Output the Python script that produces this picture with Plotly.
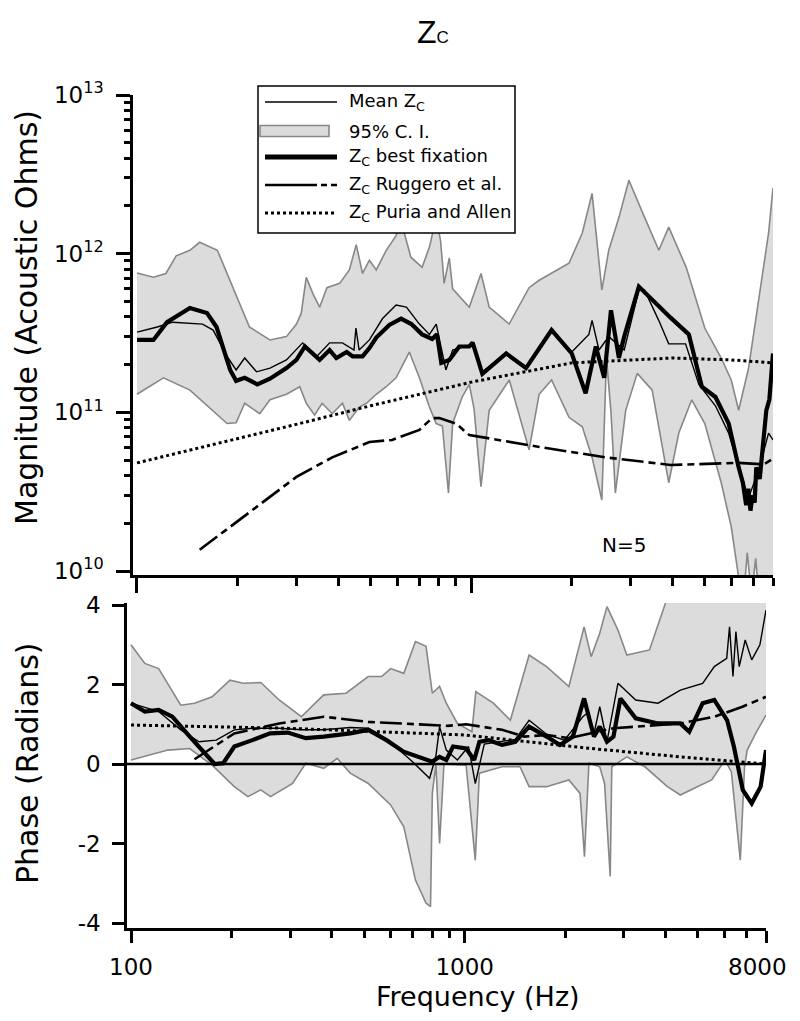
import math
import plotly.graph_objects as go

# The page body has an 8px margin; the figure is sized so the page does not overflow the 800x1021 window.
OFF = 8
W, H = 800 - OFF, 1021 - 2 * OFF


def px(x):
    return (x - OFF) / W


def py(y):
    return 1 - (y - OFF) / H


# ---------------- DATA ----------------
MAG_UNIT = 1e11  # magnitudes below are in units of 1e11 acoustic ohms

# Mean Zc magnitude
MEAN_MAG_F = [100, 115, 128, 157, 169, 186, 198, 210, 228, 250, 280, 313, 345, 377, 412, 446, 452, 462, 496, 543,
              596, 640, 700, 750, 786, 840, 880, 987, 1010, 1080, 1273, 1459, 1740, 2000, 2250, 2300, 2412, 2580,
              2870, 3175, 3300, 3640, 3900, 4380, 4800, 5380, 5895, 6314, 6760, 7245, 7760, 8000]
MEAN_MAG = [3.2, 3.45, 3.7, 3.6, 3.3, 2.25, 1.85, 2.2, 1.8, 1.9, 2.14, 2.74, 2.25, 2.74, 2.74, 2.47, 3.4, 2.47, 2.86,
            3.9, 4.75, 4.6, 3.6, 3.1, 3.6, 1.85, 2.47, 2.65, 2.75, 1.8, 2.35, 1.95, 3.3, 2.4, 3.1, 3.8, 2.47, 3.0,
            2.47, 5.9, 5.9, 3.8, 2.7, 2.7, 1.5, 1.1, 0.74, 0.45, 0.29, 0.43, 0.74, 0.67]

# Zc best fixation magnitude
BEST_MAG_F = [100, 112, 123, 144, 162, 173, 190, 198, 210, 229, 250, 280, 300, 318, 352, 377, 395, 424, 442, 473,
              496, 520, 569, 617, 662, 713, 764, 790, 814, 860, 921, 987, 1010, 1080, 1273, 1459, 1740, 2000, 2200,
              2360, 2500, 2620, 2767, 2870, 3175, 3480, 3950, 4480, 4900, 5380, 5895, 6314, 6500, 6650, 6750, 6850,
              6950, 7050, 7130, 7300, 7450, 7640, 7800, 8000]
BEST_MAG = [2.86, 2.86, 3.7, 4.55, 4.23, 3.45, 1.85, 1.58, 1.65, 1.5, 1.63, 1.9, 2.14, 2.6, 2.14, 2.47, 2.2, 2.4,
            2.25, 2.25, 2.54, 2.96, 3.55, 3.9, 3.6, 3.1, 2.9, 3.1, 2.05, 2.14, 2.6, 2.6, 2.75, 1.75, 2.35, 1.9, 3.3,
            2.35, 1.32, 2.6, 1.65, 4.4, 2.2, 3.0, 6.2, 5.1, 3.95, 3.1, 1.45, 1.25, 0.85, 0.45, 0.36, 0.26, 0.33,
            0.24, 0.3, 0.27, 0.45, 0.38, 0.6, 1.03, 1.2, 2.35]

# Ruggero et al. magnitude
RUG_MAG_F = [154, 203, 300, 384, 496, 580, 700, 764, 803, 900, 987, 1600, 2530, 3950, 6300, 7500, 8000]
RUG_MAG = [0.136, 0.21, 0.392, 0.52, 0.65, 0.67, 0.775, 0.92, 0.92, 0.85, 0.72, 0.605, 0.52, 0.466, 0.48, 0.47, 0.51]

# Puria and Allen magnitude
PA_MAG_F = [100, 200, 300, 500, 1000, 2000, 4000, 6000, 8000]
PA_MAG = [0.48, 0.68, 0.84, 1.10, 1.55, 2.05, 2.20, 2.14, 2.05]

# 95% C.I. magnitude, upper and lower limits
CI_UP_F = [100, 112, 122, 131, 144, 154, 174, 190, 217, 250, 280, 300, 310, 321, 336, 352, 370, 404, 432, 453,
           473, 496, 520, 557, 596, 617, 660, 713, 750, 786, 810, 830, 860, 880, 921, 987, 1070, 1132, 1299, 1490,
           1597, 1962, 2150, 2300, 2460, 2580, 2770, 2964, 3300, 3643, 3900, 4400, 5000, 5600, 6000, 6314, 6760,
           7245, 7760, 8000]
CI_UP = [7.55, 7.1, 7.5, 9.7, 10.5, 11.8, 10.5, 6.8, 3.45, 2.86, 3.0, 3.6, 4.2, 7.1, 5.6, 4.6, 6.1, 6.5, 7.9, 11.4,
         7.5, 9.1, 7.9, 10.5, 13, 16, 9.5, 8.2, 11, 17, 12, 6.5, 9.4, 6.0, 5.4, 4.6, 7.5, 4.6, 3.6, 6.1,
         6.8, 8.7, 13.5, 24, 5.9, 10.5, 17, 29, 17, 10.5, 14.7, 8.2, 3.4, 2.2, 1.6, 1.03, 1.9, 5.1, 13.5, 26]
CI_LO_F = [100, 120, 144, 168, 186, 198, 210, 233, 250, 280, 307, 321, 340, 358, 384, 412, 432, 463, 486, 520,
           557, 596, 653, 700, 750, 786, 820, 855, 880, 940, 987, 1020, 1070, 1132, 1273, 1300, 1490, 1597, 1740,
           1962, 2150, 2300, 2460, 2540, 2620, 2700, 2900, 3140, 3480, 3900, 4180, 4570, 5000, 5600, 6000, 6300,
           6500, 6700, 6900, 7100, 7300, 8000]
CI_LO = [1.3, 1.65, 1.38, 1.03, 0.85, 0.86, 1.14, 0.98, 1.2, 1.3, 1.45, 1.14, 0.96, 1.14, 0.98, 1.14, 0.89, 1.08,
         1.14, 1.3, 1.45, 1.65, 2.4, 1.65, 1.08, 0.85, 0.82, 0.31, 0.85, 1.25, 1.5, 1.05, 0.34, 1.03, 1.52, 1.6,
         0.58, 1.3, 1.6, 0.93, 0.81, 0.52, 0.28, 2.2, 1.0, 0.31, 1.03, 1.76, 1.38, 0.36, 0.74, 1.2, 0.85, 0.36,
         0.19, 0.1, 0.06, 0.13, 0.07, 0.12, 0.06, 0.06]

# Phase (radians)
MEAN_PH_F = [100, 121, 141, 160, 180, 204, 231, 278, 324, 378, 454, 514, 548, 620, 699, 785, 820, 841, 881, 951,
             1027, 1076, 1145, 1294, 1418, 1560, 1760, 1990, 2260, 2350, 2430, 2540, 2670, 2880, 3256, 3798, 4430,
             5167, 5600, 6100, 6220, 6370, 6500, 6650, 6930, 7250, 7670, 8000]
MEAN_PH = [1.53, 1.32, 0.86, 0.56, 0.6, 0.86, 0.9, 0.9, 0.86, 0.86, 0.92, 0.9, 0.77, 0.44, 0.05, -0.36, 0.2, 0.94,
           0.35, 0.1, 0.44, -0.49, 0.5, 0.56, 0.62, 1.1, 0.75, 0.6, 1.19, 1.3, 0.69, 1.44, 0.56, 2.03, 1.61, 1.53,
           1.86, 2.03, 2.45, 2.66, 3.45, 2.2, 3.33, 2.45, 3.12, 2.62, 3.0, 3.87]

BEST_PH_F = [100, 110, 121, 133, 150, 165, 178, 189, 204, 231, 261, 295, 334, 378, 454, 514, 583, 656, 741, 800,
             841, 881, 923, 1010, 1068, 1107, 1180, 1294, 1418, 1560, 1760, 1930, 2110, 2280, 2440, 2540, 2670,
             2792, 2930, 3256, 3798, 4430, 4710, 5167, 5600, 6118, 6409, 6816, 7249, 7709, 8000]
BEST_PH = [1.53, 1.32, 1.36, 1.19, 0.69, 0.31, 0.0, 0.02, 0.44, 0.6, 0.77, 0.79, 0.65, 0.69, 0.77, 0.86, 0.6, 0.31,
           0.14, 0.06, 0.18, 0.1, 0.44, 0.39, 0.1, 0.56, 0.6, 0.48, 0.56, 0.94, 0.69, 0.48, 0.69, 1.65, 0.69, 0.94,
           0.56, 0.69, 1.65, 1.15, 1.02, 1.02, 0.81, 1.53, 1.61, 1.1, 0.44, -0.65, -0.99, -0.57, 0.35]

RUG_PH_F = [155, 204, 278, 378, 514, 699, 890, 1010, 1294, 1509, 1760, 2053, 2394, 2792, 3256, 4430, 5600, 6800, 8000]
RUG_PH = [0.12, 0.77, 1.02, 1.19, 1.06, 1.0, 0.96, 1.0, 0.86, 0.69, 0.73, 0.65, 0.77, 0.9, 0.94, 1.02, 1.19, 1.44, 1.69]

PA_PH_F = [100, 290, 1000, 2394, 4430, 8000]
PA_PH = [0.98, 0.90, 0.73, 0.39, 0.18, 0.0]

CI_PH_UP_F = [100, 110, 121, 141, 155, 175, 198, 217, 245, 278, 324, 378, 441, 514, 564, 600, 657, 712, 766, 800,
              841, 881, 951, 1051, 1080, 1219, 1371, 1560, 1760, 2053, 2280, 2394, 2540, 2670, 2880, 3062, 3580,
              3980, 4170, 8000]
CI_PH_UP = [3.0, 2.53, 2.4, 1.48, 1.53, 1.69, 2.11, 2.03, 2.05, 1.61, 1.19, 1.74, 1.78, 2.2, 2.2, 2.4, 2.28, 3.08,
            2.96, 1.78, 1.95, 1.53, 1.02, 0.81, 1.82, 1.53, 1.1, 2.74, 2.45, 1.95, 3.45, 2.7, 3.29, 3.96, 3.37,
            2.74, 2.87, 3.96, 4.5, 4.5]
CI_PH_LO_F = [100, 129, 150, 175, 204, 224, 245, 262, 305, 334, 378, 415, 454, 514, 600, 657, 712, 766, 790, 800,
              820, 841, 867, 1010, 1076, 1107, 1294, 1465, 1560, 1760, 2053, 2217, 2286, 2357, 2540, 2626, 2730,
              2760, 3062, 3470, 4050, 4430, 4980, 5500, 6026, 6300, 6700, 6900, 7027, 7450, 8000]
CI_PH_LO = [0.1, 0.35, 0.39, -0.03, -0.57, -0.82, -0.65, -0.82, -0.49, 0.02, -0.11, 0.14, -0.23, -0.49, -1.03,
            -1.58, -2.92, -3.5, -3.59, -0.74, 0.0, -2.0, 0.0, -0.03, -2.42, -0.23, -0.07, -0.07, -0.57, -0.57,
            -0.4, -0.74, -2.33, 0.02, -0.07, -0.49, -2.83, -0.07, 0.18, -0.07, -0.57, -0.78, -0.57, -0.4, 0.1,
            -0.2, -2.42, -0.07, 0.35, 0.77, 1.23]

# Axis tick labels (the last frequency label sits just left of its tick, as in the source figure)
X_TICKS = [100, 1000, 8000]
X_TICK_TEXT = ["100", "1000", ""]
X_END_LABEL = "8000"
MAG_TICKS = [1e10, 1e11, 1e12, 1e13]
MAG_TICK_TEXT = ["10<sup>10</sup>", "10<sup>11</sup>", "10<sup>12</sup>", "10<sup>13</sup>"]
PH_TICKS = [-4, -2, 0, 2, 4]
PH_TICK_TEXT = ["-4", "-2", "0", "2", "4"]

LEGEND_TEXT = ["Mean Z<sub>C</sub>", "95% C. I.", "Z<sub>C</sub> best fixation",
               "Z<sub>C</sub> Ruggero et al.", "Z<sub>C</sub> Puria and Allen"]

# ---------------- STYLE ----------------
FONT = "DejaVu Sans"
FILL = "#dcdcdc"
EDGE = "#878787"
RUG_DASH = "22px,5px,7px,5px"
THIN_W, THICK_W, RUG_W, PA_W = 1.4, 4.2, 2.6, 3.0
TICK_FONT = 23


def mag(v):
    return [a * MAG_UNIT for a in v]


fig = go.Figure()


def line(x, y, xa, ya, color="black", width=1.5, dash="solid"):
    fig.add_trace(go.Scatter(x=x, y=y, mode="lines", xaxis=xa, yaxis=ya, hoverinfo="skip",
                             line=dict(color=color, width=width, dash=dash), showlegend=False))


# ---- top: magnitude ----
fig.add_trace(go.Scatter(x=CI_UP_F + CI_LO_F[::-1], y=mag(CI_UP + CI_LO[::-1]), mode="lines",
                         fill="toself", fillcolor=FILL, line=dict(width=0, color=FILL),
                         xaxis="x", yaxis="y", hoverinfo="skip", showlegend=False))
line(CI_UP_F, mag(CI_UP), "x", "y", EDGE, 1.6)
line(CI_LO_F, mag(CI_LO), "x", "y", EDGE, 1.6)
line(PA_MAG_F, mag(PA_MAG), "x", "y", "black", PA_W, "3px,3px")
line(RUG_MAG_F, mag(RUG_MAG), "x", "y", "black", RUG_W, RUG_DASH)
line(MEAN_MAG_F, mag(MEAN_MAG), "x", "y", "black", THIN_W)
line(BEST_MAG_F, mag(BEST_MAG), "x", "y", "black", THICK_W)

# ---- bottom: phase ----
fig.add_trace(go.Scatter(x=CI_PH_UP_F + CI_PH_LO_F[::-1], y=CI_PH_UP + CI_PH_LO[::-1], mode="lines",
                         fill="toself", fillcolor=FILL, line=dict(width=0, color=FILL),
                         xaxis="x2", yaxis="y2", hoverinfo="skip", showlegend=False))
line(CI_PH_UP_F, CI_PH_UP, "x2", "y2", EDGE, 1.6)
line(CI_PH_LO_F, CI_PH_LO, "x2", "y2", EDGE, 1.6)

X2_RANGE = [2 - 4 / 333.5, math.log10(8000)]
line([10 ** X2_RANGE[0], 10 ** X2_RANGE[1]], [0, 0], "x2", "y2", "black", 2.6)
line(PA_PH_F, PA_PH, "x2", "y2", "black", PA_W, "3px,3px")
line(RUG_PH_F, RUG_PH, "x2", "y2", "black", RUG_W, RUG_DASH)
line(MEAN_PH_F, MEAN_PH, "x2", "y2", "black", THIN_W)
line(BEST_PH_F, BEST_PH, "x2", "y2", "black", THICK_W)

# ---------------- AXES ----------------
minor_x = [k * 100 for k in range(2, 10)] + [k * 1000 for k in range(2, 8)]
minor_mag = [k * 10 ** d for d in (10, 11, 12) for k in range(2, 10)]

axis_common = dict(showline=True, linecolor="black", linewidth=2.5, ticks="outside", tickcolor="black",
                   tickwidth=2.5, showgrid=False, zeroline=False, mirror=False, automargin=False,
                   tickfont=dict(family=FONT, size=TICK_FONT, color="black"))

fig.update_layout(
    template="none",
    width=W, height=H, autosize=False,
    margin=dict(l=0, r=0, t=0, b=0, pad=0),
    paper_bgcolor="white", plot_bgcolor="white",
    showlegend=False,
    xaxis=dict(type="log", domain=[px(133), px(773)], range=[2 - 4 / 335, math.log10(8000)], anchor="y",
               tickmode="array", tickvals=X_TICKS[:2], showticklabels=False, ticklen=15,
               minor=dict(tickmode="array", tickvals=minor_x + [8000], ticklen=8, tickwidth=2.5,
                          tickcolor="black", ticks="outside", showgrid=False),
               **axis_common),
    yaxis=dict(type="log", domain=[py(575), py(95)], range=[10 - 4 / 158.67, 13], anchor="x",
               tickmode="array", tickvals=MAG_TICKS, ticktext=MAG_TICK_TEXT, ticklen=14,
               ticklabelstandoff=8,
               minor=dict(tickmode="array", tickvals=minor_mag, ticklen=6, tickwidth=2.5,
                          tickcolor="black", ticks="outside", showgrid=False),
               **axis_common),
    xaxis2=dict(type="log", domain=[px(127), px(766)], range=X2_RANGE, anchor="y2",
                tickmode="array", tickvals=X_TICKS, ticktext=X_TICK_TEXT, ticklen=12,
                ticklabelstandoff=5,
                minor=dict(tickmode="array", tickvals=minor_x, ticklen=7, tickwidth=2.5,
                           tickcolor="black", ticks="outside", showgrid=False),
                **axis_common),
    yaxis2=dict(domain=[py(928), py(603)], range=[-4 - 5 / 39.75, 4 + 2 / 39.75], anchor="x2",
                tickmode="array", tickvals=PH_TICKS, ticktext=PH_TICK_TEXT, ticklen=12,
                ticklabelstandoff=7, **axis_common),
)

# ---------------- TEXT ----------------
ann = []


def text(t, x, y, size, angle=0, family=FONT, xanchor="center"):
    ann.append(dict(text=t, x=px(x), y=py(y), xref="paper", yref="paper", textangle=angle,
                    xanchor=xanchor, yanchor="middle", showarrow=False,
                    font=dict(family=family, size=size, color="black")))


text("Z<span style='font-size:17px'>C</span>", 433, 32, 32, family="Liberation Sans")
text("Magnitude (Acoustic Ohms)", 27, 318, 30, angle=-90)
text("Phase (Radians)", 27, 763, 30, angle=-90)
text("Frequency (Hz)", 478, 996, 27)
text("N=5", 624, 545, 20)
# label of the 8000 Hz tick, placed on the x2 axis value
ann.append(dict(text=X_END_LABEL, x=math.log10(X_TICKS[-1]), xref="x2", y=py(967), yref="paper",
                xanchor="right", yanchor="middle", xshift=23, showarrow=False,
                font=dict(family=FONT, size=TICK_FONT, color="black")))

# ---------------- LEGEND (drawn box) ----------------
shapes = []


def seg(x0, x1, y, **ln):
    shapes.append(dict(type="line", xref="paper", yref="paper", x0=px(x0), x1=px(x1), y0=py(y), y1=py(y),
                       line=ln, layer="above"))


shapes.append(dict(type="rect", xref="paper", yref="paper", x0=px(258), x1=px(515), y0=py(233), y1=py(86),
                   line=dict(color="black", width=1.5), fillcolor="white", layer="above"))
rows = [102, 131, 157, 185, 213]
seg(265, 337, rows[0], color="black", width=THIN_W)
shapes.append(dict(type="rect", xref="paper", yref="paper", x0=px(260), x1=px(329), y0=py(rows[1] + 5.5),
                   y1=py(rows[1] - 5.5), line=dict(color=EDGE, width=1.6), fillcolor=FILL, layer="above"))
seg(265, 337, rows[2], color="black", width=THICK_W + 1)
seg(265, 337, rows[3], color="black", width=RUG_W, dash="52px,4px,6px,4px,6px,100px")
seg(265, 337, rows[4], color="black", width=PA_W, dash="3px,3px")
for r, t in zip(rows, LEGEND_TEXT):
    text(t, 347, r, 18, xanchor="left")

fig.update_layout(annotations=ann, shapes=shapes)

fig.write_html("out.html")
